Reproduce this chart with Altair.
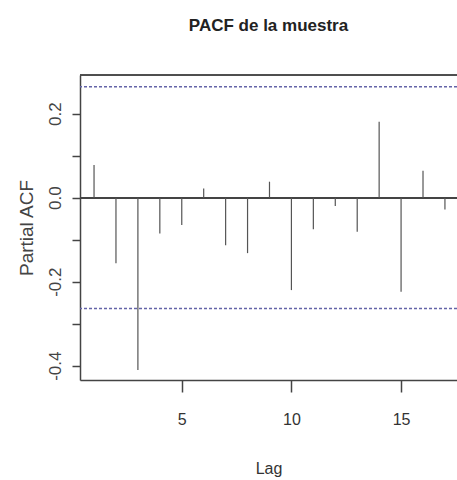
import altair as alt
import pandas as pd

lags = list(range(1, 18))
pacf = [0.078, -0.156, -0.41, -0.085, -0.065, 0.022, -0.113, -0.132, 0.038,
        -0.22, -0.075, -0.02, -0.081, 0.181, -0.224, 0.064, -0.028]
ci = 0.264
y_ticks = [-0.4, -0.3, -0.2, -0.1, 0.0, 0.1, 0.2]
x_ticks = [5, 10, 15]

df = pd.DataFrame({"lag": lags, "pacf": pacf, "zero": [0.0] * len(lags)})
ci_df = pd.DataFrame({"ci": [ci, -ci]})

SANS = "Liberation Sans"

x_scale = alt.Scale(domain=[0.36, 17.55], nice=False, zero=False)
y_scale = alt.Scale(domain=[-0.434, 0.292], nice=False, zero=False)

spikes = alt.Chart(df).mark_rule(color="#555555", strokeWidth=1.2).encode(
    x=alt.X("lag:Q", scale=x_scale,
            axis=alt.Axis(values=x_ticks, title="Lag", grid=False,
                          tickSize=12, tickColor="#444", tickWidth=1.5,
                          domainColor="#444", domainWidth=1.5,
                          labelFont=SANS, labelFontSize=16, labelColor="#333",
                          labelPadding=19, titleFont=SANS, titleFontSize=16,
                          titleFontWeight="normal", titleColor="#333",
                          titleBaseline="alphabetic", titleY=93)),
    y=alt.Y("zero:Q", scale=y_scale,
            axis=alt.Axis(values=y_ticks, title="Partial ACF", grid=False,
                          labelExpr="abs(round(datum.value*10)) % 2 == 0 ? ((datum.value < -0.001 ? '-' : '') + format(abs(datum.value), '.1f')) : ''",
                          tickSize=8, tickColor="#444", tickWidth=1.5,
                          domainColor="#444", domainWidth=1.5,
                          labelAngle=-90, labelAlign="center", labelBaseline="alphabetic",
                          labelFont=SANS, labelFontSize=17, labelColor="#444",
                          labelPadding=12, titleFont=SANS, titleFontSize=19,
                          titleFontWeight="normal", titleColor="#444",
                          titleBaseline="alphabetic", titleX=-48, titleAngle=-90)),
    y2="pacf:Q",
)

zero_line = alt.Chart(df).mark_rule(color="#444444", strokeWidth=1.3).encode(
    y=alt.Y("zero:Q", scale=y_scale)
)

ci_lines = alt.Chart(ci_df).mark_rule(color="#6464a8", strokeWidth=1.5,
                                      strokeDash=[3, 2]).encode(
    y=alt.Y("ci:Q", scale=y_scale)
)

top_line = alt.Chart(ci_df).mark_rule(color="#444444", strokeWidth=1.5).encode(
    y=alt.value(0)
)

chart = alt.layer(ci_lines, zero_line, spikes, top_line).properties(
    width=377, height=305,
    padding={"left": 80, "top": 75, "right": 0, "bottom": 100},
    autosize=alt.AutoSizeParams(type="none"),
    title=alt.TitleParams("PACF de la muestra", font=SANS, fontSize=17,
                          fontWeight="bold", color="#222", anchor="middle",
                          baseline="alphabetic", offset=26),
).configure_view(stroke=None).configure(background="white")

chart.save("out.html", embed_options={"renderer": "svg", "actions": False})
